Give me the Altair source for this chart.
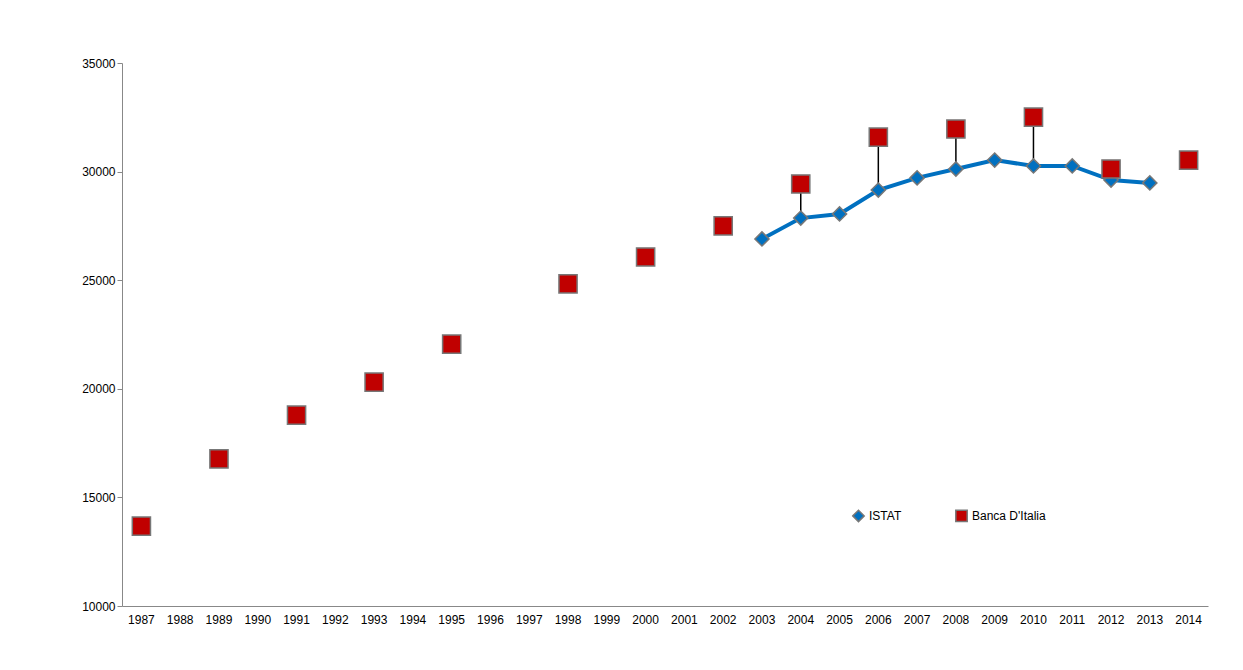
import altair as alt
import pandas as pd

years = list(range(1987, 2015))
banca_years = [1987, 1989, 1991, 1993, 1995, 1998, 2000, 2002, 2004, 2006, 2008, 2010, 2012, 2014]
banca_vals = [13680, 16770, 18790, 20310, 22060, 24830, 26070, 27500, 29430, 31590, 31960, 32510, 30120, 30530]
istat_years = [2003, 2004, 2005, 2006, 2007, 2008, 2009, 2010, 2011, 2012, 2013]
istat_vals = [26900, 27860, 28050, 29150, 29710, 30120, 30530, 30260, 30260, 29610, 29480]

banca = pd.DataFrame({"year": [str(y) for y in banca_years], "v": banca_vals, "s": "Banca D'Italia"})
istat = pd.DataFrame({"year": [str(y) for y in istat_years], "v": istat_vals, "s": "ISTAT"})
both = banca.merge(istat, on="year", suffixes=("_b", "_i"))

xenc = alt.X("year:O", scale=alt.Scale(domain=[str(y) for y in years], paddingInner=0, paddingOuter=0),
             axis=alt.Axis(title=None, labelAngle=0, ticks=False, labelFontSize=12, labelPadding=8,
                           domainColor="#888", labelColor="#000"))
yscale = alt.Scale(domain=[10000, 35000])
yaxis = alt.Axis(title=None, values=[10000, 15000, 20000, 25000, 30000, 35000], grid=False, format="d",
                 tickSize=5, labelFontSize=12, domainColor="#888", tickColor="#888", labelColor="#000")
color = alt.Color("s:N", scale=alt.Scale(domain=["ISTAT", "Banca D'Italia"], range=["#0070c0", "#c00000"]),
                  legend=alt.Legend(title=None, orient="none", legendX=730, legendY=446, direction="horizontal",
                                    labelFontSize=12, symbolSize=130, columnPadding=50, labelColor="#000",
                                    symbolStrokeColor="#777", symbolStrokeWidth=1.5))
shape = alt.Shape("s:N", scale=alt.Scale(domain=["ISTAT", "Banca D'Italia"], range=["diamond", "square"]), legend=None)

rules = alt.Chart(both).mark_rule(color="black", strokeWidth=1.5).encode(
    x=xenc, y=alt.Y("v_i:Q", scale=yscale, axis=yaxis), y2="v_b:Q")
line = alt.Chart(istat).mark_line(color="#0070c0", strokeWidth=4).encode(
    x=xenc, y=alt.Y("v:Q", scale=yscale, axis=yaxis))
pts = alt.Chart(pd.concat([istat, banca])).mark_point(filled=True, opacity=1, stroke="#777", strokeWidth=1.5).encode(
    x=xenc, y=alt.Y("v:Q", scale=yscale, axis=yaxis), color=color, shape=shape,
    size=alt.condition("datum.s == 'ISTAT'", alt.value(200), alt.value(330)))

chart = alt.layer(rules, line, pts).properties(
    width=1086, height=543, autosize="none",
    padding={"left": 114, "top": 55, "right": 27, "bottom": 50}
).configure_view(stroke=None).configure_axis(labelFont="Liberation Sans")
chart.save("out.html", embed_options={"renderer": "svg", "actions": False})
